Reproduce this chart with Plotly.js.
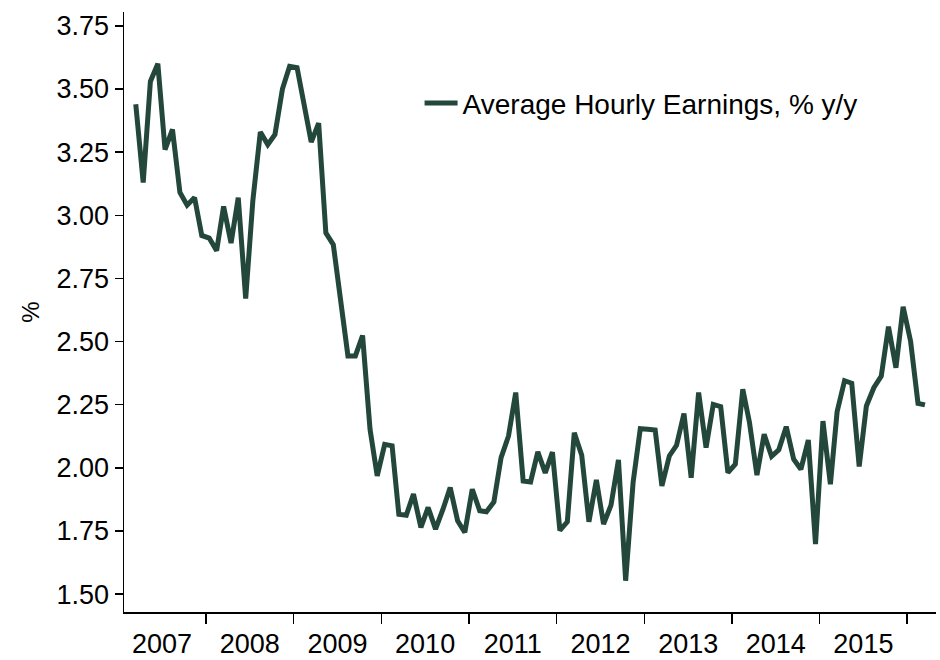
<!DOCTYPE html>
<html>
<head>
<meta charset="utf-8">
<script src="https://cdn.plot.ly/plotly-3.0.1.min.js"></script>
<style>html,body{margin:0;padding:0;background:#fff;}#chart{width:940px;height:660px;}</style>
</head>
<body>
<div id="chart"></div>
<script>
// Monthly series, first observation March 2007 (plotted mid-month)
const startYear = 2007;
const startMonth = 3;
const seriesName = 'Average Hourly Earnings, % y/y';
const ahe = [
  3.44, 3.13, 3.53, 3.60, 3.26, 3.34, 3.09, 3.04, 3.07, 2.92,           // 2007 Mar-Dec
  2.91, 2.86, 3.035, 2.89, 3.07, 2.67, 3.06, 3.33, 3.28, 3.32, 3.50, 3.59, // 2008
  3.585, 3.44, 3.29, 3.365, 2.93, 2.884, 2.68, 2.443, 2.443, 2.524, 2.153, 1.968, // 2009
  2.093, 2.087, 1.816, 1.812, 1.896, 1.764, 1.843, 1.757, 1.836, 1.922, 1.79, 1.744, // 2010
  1.915, 1.83, 1.826, 1.865, 2.04, 2.126, 2.298, 1.948, 1.944, 2.063, 1.98, 2.062, // 2011
  1.752, 1.786, 2.139, 2.05, 1.786, 1.952, 1.777, 1.852, 2.031, 1.553, 1.942, 2.155, // 2012
  2.153, 2.15, 1.928, 2.047, 2.089, 2.215, 1.961, 2.298, 2.08, 2.251, 2.242, 1.981, // 2013
  2.014, 2.311, 2.179, 1.971, 2.133, 2.045, 2.071, 2.163, 2.034, 1.994, 2.11, 1.698, // 2014
  2.185, 1.935, 2.222, 2.345, 2.335, 2.005, 2.245, 2.317, 2.363, 2.559, 2.396, 2.638, // 2015
  2.502, 2.255, 2.249 // 2016 Jan-Mar
];
const yTicks = [1.50, 1.75, 2.00, 2.25, 2.50, 2.75, 3.00, 3.25, 3.50, 3.75];
const yTickLabels = ['1.50', '1.75', '2.00', '2.25', '2.50', '2.75', '3.00', '3.25', '3.50', '3.75'];

const dates = ahe.map((_, i) => {
  const m = startMonth - 1 + i;
  const y = startYear + Math.floor(m / 12);
  const mm = (m % 12) + 1;
  return y + '-' + String(mm).padStart(2, '0') + '-15';
});

const font = 'Liberation Sans, Arial, Helvetica, sans-serif';
const lineColor = '#23473a';

Plotly.newPlot('chart', [{
  x: dates,
  y: ahe,
  type: 'scatter',
  mode: 'lines',
  name: seriesName,
  line: {color: lineColor, width: 5, shape: 'linear'}
}], {
  width: 940,
  height: 660,
  margin: {l: 124, r: 4, t: 12, b: 48},
  paper_bgcolor: '#ffffff',
  plot_bgcolor: '#ffffff',
  font: {family: font, color: '#000'},
  showlegend: true,
  legend: {
    x: 0.364, y: 0.848, xanchor: 'left', yanchor: 'middle',
    itemwidth: 33,
    font: {family: font, size: 28, color: '#000'},
    bgcolor: 'rgba(0,0,0,0)', borderwidth: 0
  },
  xaxis: {
    type: 'date',
    range: ['2007-01-25', '2016-04-30'],
    tickmode: 'linear', tick0: '2007-01-01', dtick: 'M12',
    tickformat: '%Y', ticklabelmode: 'period',
    ticks: 'outside', ticklen: 10, tickwidth: 1.5, tickcolor: '#000',
    ticklabelstandoff: -3,
    showline: true, linecolor: '#000', linewidth: 1.5,
    showgrid: false, zeroline: false,
    tickfont: {family: font, size: 27, color: '#000'}
  },
  yaxis: {
    range: [1.429, 3.805],
    tickmode: 'array', tickvals: yTicks, ticktext: yTickLabels,
    ticks: 'outside', ticklen: 8, tickwidth: 1.5, tickcolor: '#000',
    showline: true, linecolor: '#000', linewidth: 1.5,
    showgrid: false, zeroline: false,
    tickfont: {family: font, size: 27, color: '#000'},
    title: {text: '%', font: {family: font, size: 24, color: '#000'}, standoff: 10}
  }
}, {displayModeBar: false, staticPlot: true});
</script>
</body>
</html>
